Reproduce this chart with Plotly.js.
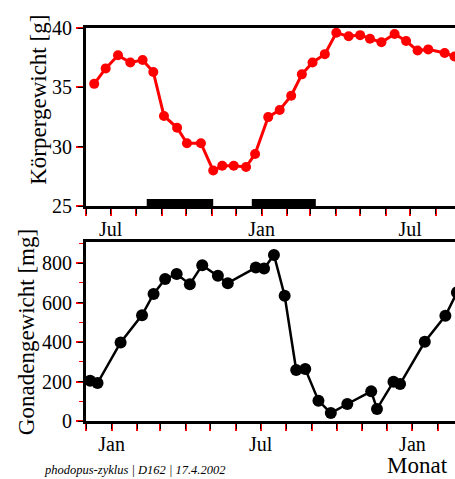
<!DOCTYPE html>
<html>
<head>
<meta charset="utf-8">
<script src="https://cdn.plot.ly/plotly-3.0.1.min.js"></script>
<style>
html,body{margin:0;padding:0;overflow:hidden;background:#fff;}
#chart{width:470px;height:479px;}
</style>
</head>
<body>
<div id="chart"></div>
<script>
// ---- data ----
const bodyDates = ['2000-06-11','2000-06-25','2000-07-10','2000-07-25','2000-08-09','2000-08-22','2000-09-04','2000-09-20','2000-10-02','2000-10-19','2000-11-03','2000-11-14','2000-11-28','2000-12-13','2000-12-24','2001-01-09','2001-01-23','2001-02-06','2001-02-19','2001-03-04','2001-03-19','2001-04-02','2001-04-17','2001-05-01','2001-05-13','2001-05-27','2001-06-12','2001-06-26','2001-07-10','2001-07-23','2001-08-12','2001-08-24'];
const bodyWeight = [35.3,36.6,37.7,37.1,37.3,36.3,32.6,31.6,30.3,30.3,28.0,28.4,28.4,28.3,29.4,32.5,33.1,34.3,36.1,37.1,37.8,39.6,39.3,39.4,39.1,38.8,39.5,38.9,38.1,38.2,37.9,37.6];

const periodStart = ['2000-08-14','2000-12-20'];
const periodEnd   = ['2000-11-03','2001-03-08'];

const gonadDates = ['2000-12-06','2000-12-15','2001-01-12','2001-02-07','2001-02-21','2001-03-07','2001-03-21','2001-04-06','2001-04-21','2001-05-10','2001-05-22','2001-06-25','2001-07-05','2001-07-17','2001-07-30','2001-08-13','2001-08-24','2001-09-09','2001-09-24','2001-10-14','2001-11-12','2001-11-19','2001-12-09','2001-12-17','2002-01-16','2002-02-10','2002-02-24'];
const gonadWeight = [204,192,398,536,643,719,744,693,789,735,698,777,772,841,634,258,263,103,40,86,150,61,199,187,401,533,651];

const monthLabels = ['Jan','','','','','','Jul','','','','',''];
const topRange = ['2000-06-01','2001-09-07'];
const botRange = ['2000-12-01','2002-03-07'];
const topYTicks = [25,30,35,40];
const botYTicks = [0,200,400,600,800];

const yTitleTop = 'Körpergewicht [g]';
const yTitleBot = 'Gonadengewicht [mg]';
const xTitle = 'Monat';
const footer = 'phodopus-zyklus | D162 | 17.4.2002';

// ---- helpers ----
function monthTicks(range){
  const vals=[], text=[];
  let [y,m] = range[0].split('-').map(Number);
  const end = range[1];
  while(true){
    const s = y+'-'+String(m).padStart(2,'0')+'-01';
    if(s>end) break;
    vals.push(s); text.push(monthLabels[m-1]);
    m++; if(m>12){m=1;y++;}
  }
  return {vals,text};
}
const tt = monthTicks(topRange), bt = monthTicks(botRange);

const font = 'Liberation Serif, Times New Roman, serif';
const tickFont = {family:font,size:20,color:'#000'};

// bar level just above the axis line
const barY = 25.32;
const barX=[], barYs=[];
periodStart.forEach((s,i)=>{barX.push(s,periodEnd[i],null);barYs.push(barY,barY,null);});

const traces = [
  {x:barX,y:barYs,mode:'lines',line:{color:'#000',width:7},xaxis:'x',yaxis:'y',hoverinfo:'skip',showlegend:false},
  {x:bodyDates,y:bodyWeight,mode:'lines+markers',line:{color:'#ff0000',width:3},marker:{color:'#ff0000',size:10},xaxis:'x',yaxis:'y',showlegend:false},
  {x:gonadDates,y:gonadWeight,mode:'lines+markers',line:{color:'#000',width:2.5},marker:{color:'#000',size:12},xaxis:'x2',yaxis:'y2',showlegend:false}
];

const topDom=[0.5465,1], botDom=[0,0.4548];
function mainX(anchor,ticks,range){
  return {type:'date',domain:[0,1],anchor:anchor,range:range,tickmode:'array',tickvals:ticks.vals,ticktext:ticks.text,
    ticks:'outside',ticklen:7,tickwidth:2,tickcolor:'#ff0000',showline:true,linewidth:3,linecolor:'#000',mirror:true,
    showgrid:false,zeroline:false,tickfont:tickFont,ticklabelstandoff:-4};
}
function overX(over,anchor,ticks,range){
  return {type:'date',overlaying:over,anchor:anchor,side:'bottom',range:range,tickmode:'array',tickvals:ticks.vals,
    ticks:'outside',ticklen:7,tickwidth:1,tickcolor:'#000',showticklabels:false,showline:false,showgrid:false,zeroline:false};
}

const layout = {
  width:470,height:479,
  margin:{l:86,r:4,t:28,b:58},
  paper_bgcolor:'#fff',plot_bgcolor:'#fff',
  showlegend:false,
  xaxis:mainX('y',tt,topRange),
  xaxis2:mainX('y2',bt,botRange),
  xaxis3:overX('x','y',tt,topRange),
  xaxis4:overX('x2','y2',bt,botRange),
  yaxis:{domain:topDom,anchor:'x',range:[25,40],tickmode:'array',tickvals:topYTicks,ticks:'outside',ticklen:7,tickwidth:2,tickcolor:'#ff0000',
    showline:true,linewidth:3,linecolor:'#000',mirror:true,showgrid:false,zeroline:false,tickfont:tickFont},
  yaxis2:{domain:botDom,anchor:'x2',range:[0,905],tickmode:'array',tickvals:botYTicks,ticks:'outside',ticklen:7,tickwidth:2,tickcolor:'#ff0000',
    minor:{dtick:100,ticks:'outside',ticklen:4,tickcolor:'#ff0000',tickwidth:1,showgrid:false},
    showline:true,linewidth:3,linecolor:'#000',mirror:true,showgrid:false,zeroline:false,tickfont:tickFont},
  yaxis3:{overlaying:'y',anchor:'x',side:'left',range:[25,40],tickmode:'array',tickvals:topYTicks,ticks:'outside',ticklen:7,tickwidth:1,tickcolor:'#000',
    showticklabels:false,showline:false,showgrid:false,zeroline:false},
  yaxis4:{overlaying:'y2',anchor:'x2',side:'left',range:[0,905],tickmode:'array',tickvals:botYTicks,ticks:'outside',ticklen:7,tickwidth:1,tickcolor:'#000',
    showticklabels:false,showline:false,showgrid:false,zeroline:false},
  annotations:[
    {text:yTitleTop,xref:'paper',yref:'paper',x:-0.124,y:0.817,xanchor:'center',yanchor:'middle',textangle:-90,showarrow:false,font:{family:font,size:23,color:'#000'}},
    {text:yTitleBot,xref:'paper',yref:'paper',x:-0.158,y:0.226,xanchor:'center',yanchor:'middle',textangle:-90,showarrow:false,font:{family:font,size:23,color:'#000'}},
    {text:xTitle,xref:'paper',yref:'paper',x:0.872,y:-0.113,xanchor:'center',yanchor:'middle',showarrow:false,borderpad:0,font:{family:font,size:23,color:'#000'}},
    {text:'<i>'+footer+'</i>',xref:'paper',yref:'paper',x:-0.117,y:-0.124,xanchor:'left',yanchor:'middle',showarrow:false,font:{family:font,size:12.5,color:'#000'}}
  ]
};

// invisible anchors so the overlay subplots exist
traces.push({x:[topRange[0]],y:[25],xaxis:'x3',yaxis:'y3',mode:'markers',marker:{opacity:0},hoverinfo:'skip',showlegend:false});
traces.push({x:[botRange[0]],y:[0],xaxis:'x4',yaxis:'y4',mode:'markers',marker:{opacity:0},hoverinfo:'skip',showlegend:false});

Plotly.newPlot('chart',traces,layout,{staticPlot:true});
</script>
</body>
</html>
